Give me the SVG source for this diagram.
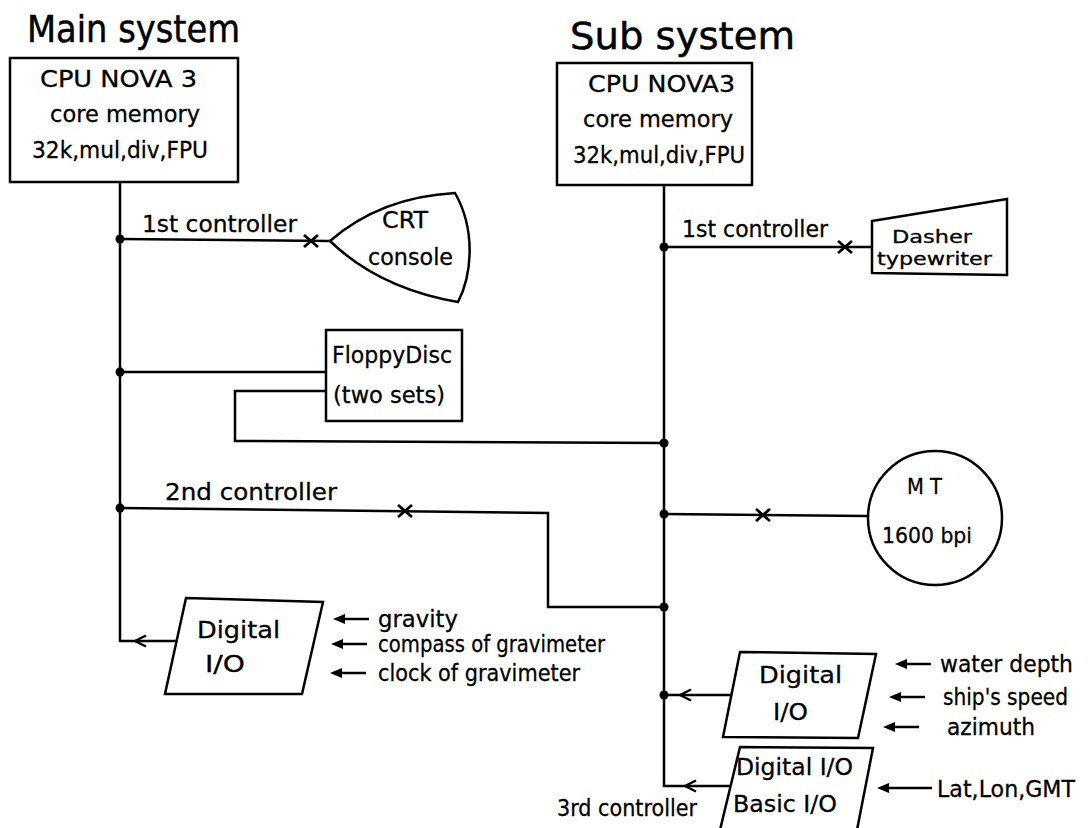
<svg xmlns="http://www.w3.org/2000/svg" width="1089" height="828" viewBox="0 0 1089 828">
<style>
.s{fill:none;stroke:#000;stroke-width:2.5;stroke-linejoin:miter}
.n{fill:#fff;stroke:#000;stroke-width:2.5}
.t{font-family:"DejaVu Sans","Liberation Sans",sans-serif;font-size:23px;fill:#000;stroke:#000;stroke-width:0.3}
.h{font-family:"DejaVu Sans","Liberation Sans",sans-serif;font-size:38px;fill:#000;stroke:#000;stroke-width:0.5}
.m{font-size:21px}
.k{font-size:18px}
.d{fill:#000}
</style>
<defs>
<g id="xm"><path d="M-7,-6 L7,6 M-7,6 L7,-6" fill="none" stroke="#000" stroke-width="2.8"/></g>
<g id="ch"><path d="M11,-5.5 L0,0 L11,5.5" fill="none" stroke="#000" stroke-width="2.3"/></g>
<g id="ar"><path d="M0,0 L12,-5 L12,5 Z" fill="#000"/><path d="M10,0 L36,0" stroke="#000" stroke-width="2.5"/></g>
</defs>
<rect width="1089" height="828" fill="#fff"/>
<text class="h" x="27" y="42" textLength="213" lengthAdjust="spacingAndGlyphs">Main system</text>
<text class="h" x="570" y="49" textLength="225" lengthAdjust="spacingAndGlyphs">Sub system</text>

<g id="connectors">
<path class="s" d="M120,182 L120,641 L177,641"/>
<path class="s" d="M120,239 L330,241"/>
<path class="s" d="M120,372 L326,372"/>
<path class="s" d="M326,391 L235,391 L235,441 L664,443"/>
<path class="s" d="M120,508 L548,513 L548,607 L664,607"/>
<path class="s" d="M664,185 L664,786 L730,786"/>
<path class="s" d="M664,247 L872,247"/>
<path class="s" d="M664,514 L867,516"/>
<path class="s" d="M664,695 L732,695"/>
<circle class="d" cx="120" cy="239" r="4.5"/>
<circle class="d" cx="120" cy="372" r="4.5"/>
<circle class="d" cx="120" cy="508" r="4.5"/>
<circle class="d" cx="664" cy="247" r="4.5"/>
<circle class="d" cx="664" cy="443" r="4.5"/>
<circle class="d" cx="664" cy="514" r="4.5"/>
<circle class="d" cx="664" cy="607" r="4.5"/>
<circle class="d" cx="664" cy="695" r="4.5"/>
<use href="#xm" x="311" y="241"/>
<use href="#xm" x="405" y="511"/>
<use href="#xm" x="845" y="247"/>
<use href="#xm" x="763" y="515"/>
<use href="#ch" x="135" y="641"/>
<use href="#ch" x="680" y="695"/>
<use href="#ch" x="685" y="786"/>
<text class="t" x="142" y="232" textLength="155" lengthAdjust="spacingAndGlyphs">1st controller</text>
<text class="t" x="165" y="500" textLength="172" lengthAdjust="spacingAndGlyphs">2nd controller</text>
<text class="t" x="682" y="237" textLength="146" lengthAdjust="spacingAndGlyphs">1st controller</text>
<text class="t" x="557" y="816" textLength="140" lengthAdjust="spacingAndGlyphs">3rd controller</text>
</g>

<g id="main-cpu">
<rect class="n" x="10" y="58" width="228" height="124"/>
<text class="t" x="40" y="87" textLength="157" lengthAdjust="spacingAndGlyphs">CPU NOVA 3</text>
<text class="t" x="50" y="122" textLength="150" lengthAdjust="spacingAndGlyphs">core memory</text>
<text class="t" x="32" y="158" textLength="176" lengthAdjust="spacingAndGlyphs">32k,mul,div,FPU</text>
</g>

<g id="sub-cpu">
<rect class="n" x="557" y="63" width="195" height="122"/>
<text class="t" x="588" y="92" textLength="147" lengthAdjust="spacingAndGlyphs">CPU NOVA3</text>
<text class="t" x="583" y="127" textLength="150" lengthAdjust="spacingAndGlyphs">core memory</text>
<text class="t" x="573" y="163" textLength="172" lengthAdjust="spacingAndGlyphs">32k,mul,div,FPU</text>
</g>

<g id="crt">
<path class="n" d="M330,241 C360,215 400,196 455,193 C476,230 472,275 458,302 C400,292 360,270 330,241 Z"/>
<text class="t" x="382" y="228" textLength="46" lengthAdjust="spacingAndGlyphs">CRT</text>
<text class="t" x="368" y="265" textLength="85" lengthAdjust="spacingAndGlyphs">console</text>
</g>

<g id="floppy">
<rect class="n" x="326" y="330" width="136" height="91"/>
<text class="t" x="332" y="363" textLength="120" lengthAdjust="spacingAndGlyphs">FloppyDisc</text>
<text class="t" x="333" y="403" textLength="112" lengthAdjust="spacingAndGlyphs">(two sets)</text>
</g>

<g id="dasher">
<path class="n" d="M872,221 L1007,199 L1007,275 L872,273 Z"/>
<text class="t k" x="892" y="243" textLength="80" lengthAdjust="spacingAndGlyphs">Dasher</text>
<text class="t k" x="877" y="265" textLength="115" lengthAdjust="spacingAndGlyphs">typewriter</text>
</g>

<g id="mt">
<circle class="n" cx="935" cy="518" r="67"/>
<text class="t m" x="907" y="494" textLength="35" lengthAdjust="spacingAndGlyphs">M T</text>
<text class="t m" x="882" y="543" textLength="90" lengthAdjust="spacingAndGlyphs">1600 bpi</text>
</g>

<g id="main-dio">
<path class="n" d="M186,598 L323,602 L302,694 L165,694 Z"/>
<text class="t" x="197" y="638" textLength="83" lengthAdjust="spacingAndGlyphs">Digital</text>
<text class="t" x="205" y="672" textLength="40" lengthAdjust="spacingAndGlyphs">I/O</text>
<use href="#ar" x="333" y="619"/>
<use href="#ar" x="331" y="644"/>
<use href="#ar" x="330" y="673"/>
<text class="t" x="378" y="627" textLength="80" lengthAdjust="spacingAndGlyphs">gravity</text>
<text class="t" x="378" y="652" textLength="227" lengthAdjust="spacingAndGlyphs">compass of gravimeter</text>
<text class="t" x="378" y="681" textLength="202" lengthAdjust="spacingAndGlyphs">clock of gravimeter</text>
</g>

<g id="sub-dio">
<path class="n" d="M740,652 L876,654 L858,738 L723,737 Z"/>
<text class="t" x="759" y="683" textLength="83" lengthAdjust="spacingAndGlyphs">Digital</text>
<text class="t" x="773" y="720" textLength="35" lengthAdjust="spacingAndGlyphs">I/O</text>
<use href="#ar" x="895" y="664"/>
<use href="#ar" x="889" y="697"/>
<use href="#ar" x="883" y="727"/>
<text class="t" x="940" y="672" textLength="133" lengthAdjust="spacingAndGlyphs">water depth</text>
<text class="t" x="943" y="705" textLength="125" lengthAdjust="spacingAndGlyphs">ship's speed</text>
<text class="t" x="947" y="735" textLength="88" lengthAdjust="spacingAndGlyphs">azimuth</text>
</g>

<g id="sub-basic-io">
<path class="n" d="M740,747 L873,748 L857,830 L720,830 Z"/>
<text class="t" x="736" y="775" textLength="117" lengthAdjust="spacingAndGlyphs">Digital I/O</text>
<text class="t" x="733" y="812" textLength="104" lengthAdjust="spacingAndGlyphs">Basic I/O</text>
<path d="M877,788 L889,783 L889,793 Z" fill="#000"/>
<path d="M887,788 L932,788" stroke="#000" stroke-width="2.5"/>
<text class="t" x="937" y="797" textLength="138" lengthAdjust="spacingAndGlyphs">Lat,Lon,GMT</text>
</g>
</svg>
